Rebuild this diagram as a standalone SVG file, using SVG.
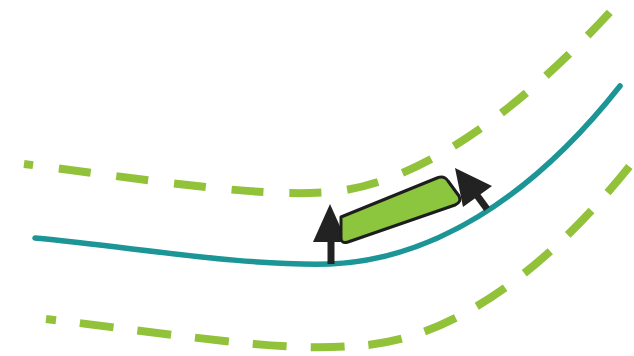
<svg xmlns="http://www.w3.org/2000/svg" width="634" height="356" viewBox="0 0 634 356">
<style>
.dash{fill:none;stroke:#92c23a;stroke-width:8}
.road{fill:none;stroke:#1b9595;stroke-width:5.5;stroke-linecap:round}
.shaft{stroke:#222;stroke-width:7}
.head{fill:#222}
.box{fill:#8cc63e;stroke:#1d1d1d;stroke-width:3;stroke-linejoin:round}
</style>
<rect width="634" height="356" fill="#fff"/>
<g id="lanes">
<path class="dash" d="M24,164 C150,180 260,198 330,192 C420,184 520,110 612,10" stroke-dasharray="32 26" stroke-dashoffset="23"/>
<path class="dash" d="M46,319 C180,335 280,352 350,346 C440,345 545,280 650,140" stroke-dasharray="34 24" stroke-dashoffset="24"/>
</g>
<path id="centre" class="road" d="M35,238 C140,248 240,266 330,264 C430,260 530,200 620,86"/>
<g id="arrows">
<line class="shaft" x1="331" y1="264" x2="331" y2="235"/>
<polygon class="head" points="330,204 313,242 347,242"/>
<line class="shaft" x1="487" y1="209" x2="476" y2="194"/>
<polygon class="head" points="455,168 492,186 463,207"/>
</g>
<path id="vehicle" class="box" d="M341,217 L437,178 Q444,175 448,181 L459,196 Q462,202 455,205 L348,242 Q341,244 341,238 Z"/>
</svg>
